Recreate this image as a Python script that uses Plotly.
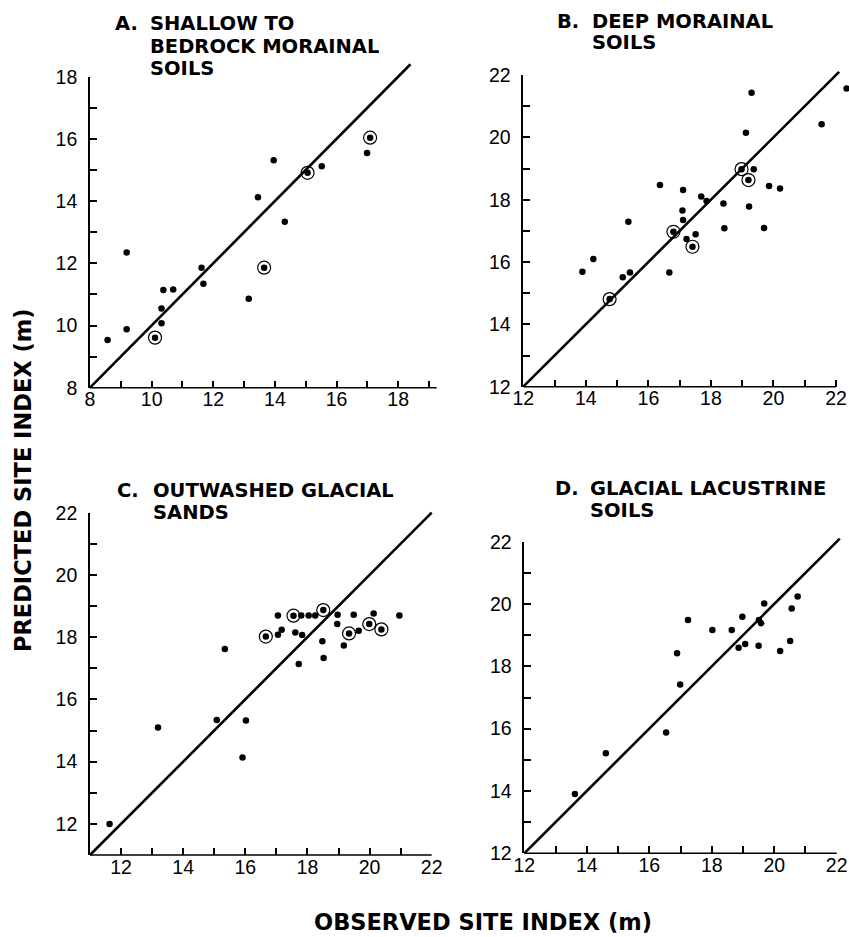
import plotly.graph_objects as go

# ---------------- data (observed vs predicted site index, m) ----------------
A_obs = [8.57, 9.19, 9.19, 10.11, 10.32, 10.32, 10.38, 10.70, 11.62, 11.68,
         13.15, 13.45, 13.65, 13.96, 14.32, 15.06, 15.52, 16.99, 17.09]
A_pred = [9.53, 12.35, 9.88, 9.61, 10.07, 10.55, 11.14, 11.16, 11.86, 11.34,
          10.86, 14.12, 11.86, 15.31, 13.34, 14.91, 15.12, 15.55, 16.04]
A_ring = [0, 0, 0, 1, 0, 0, 0, 0, 0, 0, 0, 0, 1, 0, 0, 1, 0, 0, 1]

B_obs = [13.89, 14.24, 14.76, 15.18, 15.36, 15.41, 16.37, 16.67, 16.80, 17.11,
         17.09, 17.11, 17.22, 17.41, 17.51, 17.69, 17.86, 18.40, 18.43, 18.98,
         19.20, 19.12, 19.30, 19.22, 19.37, 19.70, 19.86, 20.21, 21.54, 22.34]
B_pred = [15.69, 16.10, 14.81, 15.51, 17.29, 15.66, 18.47, 15.66, 16.97, 18.31,
          17.65, 17.35, 16.74, 16.49, 16.89, 18.10, 17.96, 17.88, 17.08, 18.98,
          18.63, 20.15, 21.43, 17.78, 18.98, 17.09, 18.44, 18.36, 20.42, 21.57]
B_ring = [0, 0, 1, 0, 0, 0, 0, 0, 1, 0, 0, 0, 0, 1, 0, 0, 0, 0, 0, 1,
          1, 0, 0, 0, 0, 0, 0, 0, 0, 0]

C_obs = [11.63, 13.19, 15.08, 15.34, 15.91, 16.02, 16.66, 17.05, 17.05, 17.17,
         17.55, 17.61, 17.72, 17.83, 17.80, 18.04, 18.25, 18.51, 18.48, 18.52,
         18.97, 18.96, 19.17, 19.34, 19.49, 19.65, 19.99, 20.13, 20.38, 20.96]
C_pred = [12.00, 15.10, 15.34, 17.62, 14.13, 15.32, 18.02, 18.70, 18.08, 18.24,
          18.69, 18.15, 17.14, 18.07, 18.70, 18.70, 18.70, 18.87, 17.87, 17.33,
          18.72, 18.42, 17.73, 18.12, 18.72, 18.21, 18.42, 18.76, 18.25, 18.70]
C_ring = [0, 0, 0, 0, 0, 0, 1, 0, 0, 0, 1, 0, 0, 0, 0, 0, 0, 1, 0, 0,
          0, 0, 0, 1, 0, 0, 1, 0, 1, 0]

D_obs = [13.62, 14.61, 16.54, 16.89, 16.99, 17.24, 18.02, 18.64, 18.86, 18.98,
         19.07, 19.50, 19.51, 19.58, 19.68, 20.19, 20.51, 20.56, 20.75]
D_pred = [13.90, 15.21, 15.88, 18.42, 17.42, 19.49, 19.17, 19.17, 18.60, 19.59,
          18.72, 18.66, 19.49, 19.38, 20.02, 18.49, 18.81, 19.86, 20.24]
D_ring = [0] * len(D_obs)

A_title = ["A.", "SHALLOW TO", "BEDROCK MORAINAL", "SOILS"]
B_title = ["B.", "DEEP MORAINAL", "SOILS"]
C_title = ["C.", "OUTWASHED GLACIAL", "SANDS"]
D_title = ["D.", "GLACIAL LACUSTRINE", "SOILS"]

A_ticks = [8, 10, 12, 14, 16, 18]
BCD_ticks = [12, 14, 16, 18, 20, 22]

Y_TITLE = "PREDICTED SITE INDEX (m)"
X_TITLE = "OBSERVED SITE INDEX (m)"

# ---------------- layout geometry ----------------
W, H = 849, 937
TITLE_FONT = dict(family="DejaVu Sans", size=19.5, color="black", weight="bold")
TICK_FONT = dict(family="Liberation Sans", size=19.5, color="black")
PX_PER_UNIT = 31.27  # panel B horizontal scale, used to widen its plot area

panels = [
    dict(obs=A_obs, pred=A_pred, ring=A_ring, title=A_title, ticks=A_ticks,
         xr=[8, 19.25], xline=19.25, yr=[8, 18], minor0=8, line=[8, 18.4],
         xpx=[90, 436.7], ypx=[387.7, 76.7], tx=[113, 148], ty=[23.3, 46.0, 68.3]),
    dict(obs=B_obs, pred=B_pred, ring=B_ring, title=B_title, ticks=BCD_ticks,
         xr=[12, 22.4], xline=22, yr=[12, 22], minor0=12, line=[12, 22.1],
         xpx=[523.3, 523.3 + 10.4 * PX_PER_UNIT], ypx=[386.7, 75],
         tx=[555, 590], ty=[21.2, 42.5]),
    dict(obs=C_obs, pred=C_pred, ring=C_ring, title=C_title, ticks=BCD_ticks,
         xr=[11, 22], xline=22, yr=[11, 22], minor0=11, line=[11, 22.0],
         xpx=[90, 431.7], ypx=[855, 512.7], tx=[115, 150.7], ty=[490.3, 512.5]),
    dict(obs=D_obs, pred=D_pred, ring=D_ring, title=D_title, ticks=BCD_ticks,
         xr=[12, 22], xline=22, yr=[12, 22], minor0=12, line=[12, 22.1],
         xpx=[524.3, 836.7], ypx=[853.3, 541.7], tx=[552.7, 588.3], ty=[488.3, 511]),
]

fig = go.Figure()
layout = dict(template="none", width=W, height=H, autosize=False,
              margin=dict(l=0, r=0, t=0, b=0, pad=0),
              paper_bgcolor="white", plot_bgcolor="white",
              showlegend=False, shapes=[], annotations=[])

AXIS_W = 1.6
for i, p in enumerate(panels):
    n = "" if i == 0 else str(i + 1)
    xa, ya = "x" + n, "y" + n
    xdom = [p["xpx"][0] / W, min(p["xpx"][1] / W, 1.0)]
    ydom = [1 - p["ypx"][0] / H, 1 - p["ypx"][1] / H]
    common = dict(showgrid=False, zeroline=False, linecolor="black",
                  linewidth=AXIS_W, ticks="inside", ticklen=7, tickwidth=1.5,
                  tickcolor="black", tickmode="array", tickvals=p["ticks"],
                  ticktext=[str(t) for t in p["ticks"]], tickfont=TICK_FONT,
                  minor=dict(tickmode="linear", tick0=p["minor0"], dtick=1,
                             ticks="inside", ticklen=7, tickwidth=1.5,
                             tickcolor="black", showgrid=False),
                  automargin=False, fixedrange=True)
    layout["xaxis" + n] = dict(common, domain=xdom, range=p["xr"], anchor=ya,
                               showline=False, ticklabelstandoff=-2)
    layout["yaxis" + n] = dict(common, domain=ydom, range=p["yr"], anchor=xa,
                               showline=True, ticklabelstandoff=7)

    def fx(v, r=p["xr"]):
        return (v - r[0]) / (r[1] - r[0])

    def fy(v, r=p["yr"]):
        return (v - r[0]) / (r[1] - r[0])

    # x axis line (stops at the last tick even if the plot area is wider)
    layout["shapes"].append(dict(type="line", xref=xa + " domain", yref=ya + " domain",
                                 x0=0, y0=0, x1=fx(p["xline"]), y1=0,
                                 line=dict(color="black", width=AXIS_W)))

    fig.add_trace(go.Scatter(x=p["obs"], y=p["pred"], mode="markers",
                             xaxis=xa, yaxis=ya, cliponaxis=False,
                             marker=dict(size=6.5, color="black")))
    rx = [x for x, r in zip(p["obs"], p["ring"]) if r]
    ry = [y for y, r in zip(p["pred"], p["ring"]) if r]
    if rx:
        fig.add_trace(go.Scatter(x=rx, y=ry, mode="markers", xaxis=xa, yaxis=ya,
                                 cliponaxis=False,
                                 marker=dict(size=13, symbol="circle-open",
                                             color="black", line=dict(width=1.2))))

    # 1:1 line (drawn in domain units so it may run past the axis frame)
    l0, l1 = p["line"]
    layout["shapes"].append(dict(type="line", xref=xa + " domain", yref=ya + " domain",
                                 x0=fx(l0), y0=fy(l0), x1=fx(l1), y1=fy(l1),
                                 line=dict(color="black", width=2.6)))

    # panel titles
    t = p["title"]
    layout["annotations"].append(dict(text=t[0], xref="paper", yref="paper",
                                      x=p["tx"][0] / W, y=1 - p["ty"][0] / H,
                                      xanchor="left", yanchor="middle", height=21,
                                      showarrow=False, font=TITLE_FONT))
    for k, line in enumerate(t[1:]):
        layout["annotations"].append(dict(text=line, xref="paper", yref="paper",
                                          x=p["tx"][1] / W, y=1 - p["ty"][k] / H,
                                          xanchor="left", yanchor="middle", height=21,
                                          showarrow=False, font=TITLE_FONT))

AX_FONT = dict(family="DejaVu Sans", size=22.5, color="black", weight="bold")
layout["annotations"].append(dict(text=Y_TITLE, xref="paper", yref="paper",
                                  x=23 / W, y=1 - 480 / H, textangle=-90,
                                  xanchor="center", yanchor="middle",
                                  showarrow=False, font=AX_FONT))
layout["annotations"].append(dict(text=X_TITLE, xref="paper", yref="paper",
                                  x=482.5 / W, y=0.0,
                                  xanchor="center", yanchor="bottom",
                                  showarrow=False, font=AX_FONT))

fig.update_layout(**layout)
fig.write_html("out.html", include_plotlyjs=True, config={"displayModeBar": False},
               post_script="document.body.style.margin='0';"
                           "document.body.style.overflow='hidden';")
